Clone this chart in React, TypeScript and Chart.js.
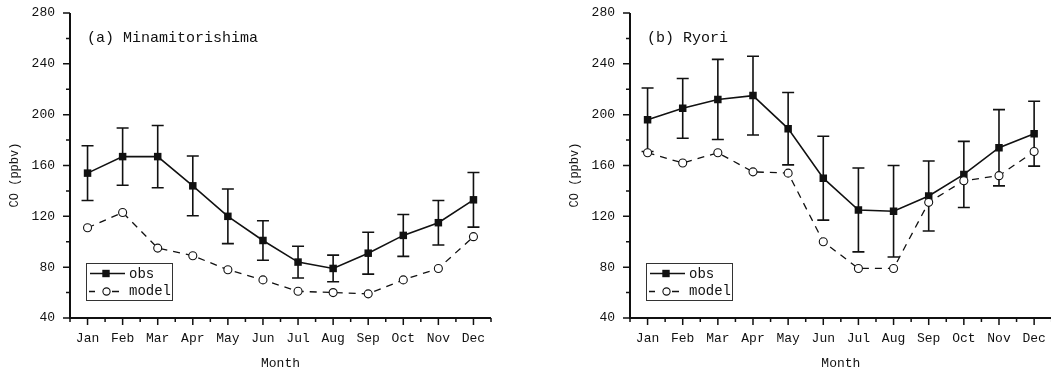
import React, { useEffect, useRef } from 'react';
import { Chart, registerables } from 'chart.js';
Chart.register(...registerables);

const months = ['Jan', 'Feb', 'Mar', 'Apr', 'May', 'Jun', 'Jul', 'Aug', 'Sep', 'Oct', 'Nov', 'Dec'];
const yMin = 40;
const yMax = 280;

// (a) Minamitorishima
const minamiObs = [154, 167, 167, 144, 120, 101, 84, 79, 91, 105, 115, 133];
const minamiErr = [21.5, 22.5, 24.5, 23.5, 21.5, 15.5, 12.5, 10.5, 16.5, 16.5, 17.5, 21.5];
const minamiModel = [111, 123, 95, 89, 78, 70, 61, 60, 59, 70, 79, 104];

// (b) Ryori
const ryoriObs = [196, 205, 212, 215, 189, 150, 125, 124, 136, 153, 174, 185];
const ryoriErr = [25, 23.5, 31.5, 31, 28.5, 33, 33, 36, 27.5, 26, 30, 25.5];
const ryoriModel = [170, 162, 170, 155, 154, 100, 79, 79, 131, 148, 152, 171];

const FONT = '"Liberation Mono", "DejaVu Sans Mono", monospace';
const INK = '#111';

type PanelProps = {
  title: string;
  obs: number[];
  err: number[];
  model: number[];
  width: number;
  padRight: number;
};

function makePlugin(p: PanelProps) {
  return {
    id: 'panelDecor',
    beforeDatasetsDraw(chart: any) {
      const ctx = chart.ctx;
      const xs = chart.scales.x;
      const ys = chart.scales.y;
      ctx.save();
      ctx.strokeStyle = INK;
      ctx.lineWidth = 1.6;
      p.obs.forEach((v, i) => {
        const x = xs.getPixelForValue(i + 1);
        const yt = ys.getPixelForValue(v + p.err[i]);
        const yb = ys.getPixelForValue(v - p.err[i]);
        ctx.beginPath();
        ctx.moveTo(x, yt);
        ctx.lineTo(x, yb);
        ctx.moveTo(x - 6, yt);
        ctx.lineTo(x + 6, yt);
        ctx.moveTo(x - 6, yb);
        ctx.lineTo(x + 6, yb);
        ctx.stroke();
      });
      ctx.restore();
    },
    afterDraw(chart: any) {
      const ctx = chart.ctx;
      const { left, right, top, bottom } = chart.chartArea;
      const xs = chart.scales.x;
      const ys = chart.scales.y;
      ctx.save();
      // axes
      ctx.strokeStyle = INK;
      ctx.lineWidth = 2;
      ctx.beginPath();
      ctx.moveTo(left, top);
      ctx.lineTo(left, bottom + 1);
      ctx.moveTo(left - 1, bottom);
      ctx.lineTo(right, bottom);
      ctx.stroke();
      // ticks
      ctx.lineWidth = 1.5;
      ctx.beginPath();
      for (let v = yMin; v <= yMax; v += 20) {
        const y = ys.getPixelForValue(v);
        const len = v % 40 === 0 ? 7 : 4;
        ctx.moveTo(left, y);
        ctx.lineTo(left - len, y);
      }
      for (let k = 1; k <= 25; k++) {
        const x = xs.getPixelForValue(k * 0.5);
        const len = k % 2 === 0 ? 7 : 4;
        ctx.moveTo(x, bottom);
        ctx.lineTo(x, bottom + len);
      }
      ctx.stroke();

      // panel title
      ctx.fillStyle = INK;
      ctx.font = `15px ${FONT}`;
      ctx.textAlign = 'left';
      ctx.textBaseline = 'alphabetic';
      ctx.fillText(p.title, left + 17, 42);

      // axis titles
      ctx.font = `13px ${FONT}`;
      ctx.textAlign = 'center';
      ctx.textBaseline = 'middle';
      ctx.fillText('Month', (left + right) / 2, 364);
      ctx.save();
      ctx.translate(left - 55, 175);
      ctx.rotate(-Math.PI / 2);
      ctx.font = `12px ${FONT}`;
      ctx.fillText('CO (ppbv)', 0, 0);
      ctx.restore();

      // legend
      const bx = left + 16;
      const by = 263;
      ctx.strokeStyle = '#333';
      ctx.lineWidth = 1;
      ctx.strokeRect(bx + 0.5, by + 0.5, 86, 37);
      const r1 = by + 10.5;
      const r2 = by + 28.5;
      ctx.strokeStyle = INK;
      ctx.lineWidth = 1.6;
      ctx.beginPath();
      ctx.moveTo(bx + 4, r1);
      ctx.lineTo(bx + 39, r1);
      ctx.stroke();
      ctx.fillStyle = INK;
      ctx.fillRect(bx + 20 - 3.7, r1 - 3.7, 7.4, 7.4);
      ctx.lineWidth = 1.3;
      ctx.beginPath();
      ctx.moveTo(bx + 3, r2);
      ctx.lineTo(bx + 9, r2);
      ctx.moveTo(bx + 26, r2);
      ctx.lineTo(bx + 33, r2);
      ctx.stroke();
      ctx.beginPath();
      ctx.fillStyle = '#fff';
      ctx.arc(bx + 20.5, r2, 3.6, 0, Math.PI * 2);
      ctx.fill();
      ctx.lineWidth = 1.1;
      ctx.stroke();
      ctx.fillStyle = INK;
      ctx.font = `14px ${FONT}`;
      ctx.textAlign = 'left';
      ctx.textBaseline = 'middle';
      ctx.fillText('obs', bx + 43, r1 + 1);
      ctx.fillText('model', bx + 43, r2);
      ctx.restore();
    },
  };
}

function Panel(p: PanelProps) {
  const ref = useRef<HTMLCanvasElement>(null);
  useEffect(() => {
    if (!ref.current) return;
    const chart = new Chart(ref.current, {
      type: 'line',
      data: {
        datasets: [
          {
            label: 'model',
            data: p.model.map((v, i) => ({ x: i + 1, y: v })),
            borderColor: INK,
            borderWidth: 1.3,
            borderDash: [7, 6],
            pointStyle: 'circle',
            pointRadius: 4,
            pointBackgroundColor: '#fff',
            pointBorderColor: INK,
            pointBorderWidth: 1.1,
            tension: 0,
          },
          {
            label: 'obs',
            data: p.obs.map((v, i) => ({ x: i + 1, y: v })),
            borderColor: INK,
            borderWidth: 1.6,
            pointStyle: 'rect',
            pointRadius: 5.3,
            pointBackgroundColor: INK,
            pointBorderColor: INK,
            pointBorderWidth: 0,
            tension: 0,
          },
        ],
      },
      options: {
        animation: false,
        responsive: false,
        layout: { padding: { top: 13, right: p.padRight, left: 0, bottom: 0 } },
        plugins: { legend: { display: false }, tooltip: { enabled: false } },
        scales: {
          x: {
            type: 'linear',
            min: 0.5,
            max: 12.5,
            grid: { display: false, drawTicks: false },
            border: { display: false },
            afterFit: (s: any) => {
              s.height = 59;
              s.paddingLeft = 0;
              s.paddingRight = 0;
            },
            ticks: {
              stepSize: 0.5,
              autoSkip: false,
              maxRotation: 0,
              padding: 13,
              color: INK,
              font: { family: FONT, size: 13 },
              callback: (v: any) => {
                const n = Number(v);
                return Number.isInteger(n) ? months[n - 1] : '';
              },
            },
          },
          y: {
            type: 'linear',
            min: yMin,
            max: yMax,
            grid: { display: false, drawTicks: false },
            border: { display: false },
            afterFit: (s: any) => {
              s.width = 70;
              s.paddingTop = 0;
              s.paddingBottom = 0;
            },
            ticks: {
              stepSize: 20,
              autoSkip: false,
              padding: 15,
              color: INK,
              font: { family: FONT, size: 13 },
              callback: (v: any) => (Number(v) % 40 === 0 ? String(v) : ''),
            },
          },
        },
      },
      plugins: [makePlugin(p)],
    } as any);
    return () => chart.destroy();
  }, []);
  return <canvas ref={ref} width={p.width} height={377} style={{ width: p.width, height: 377, display: 'block' }} />;
}

export default function App() {
  return (
    <div style={{ position: 'fixed', left: 0, top: 0, width: 1051, height: 377, background: '#fff', overflow: 'hidden' }}>
      <div style={{ position: 'absolute', left: 0, top: 0 }}>
        <Panel title="(a) Minamitorishima" obs={minamiObs} err={minamiErr} model={minamiModel} width={520} padRight={29} />
      </div>
      <div style={{ position: 'absolute', left: 560, top: 0 }}>
        <Panel title="(b) Ryori" obs={ryoriObs} err={ryoriErr} model={ryoriModel} width={497} padRight={0} />
      </div>
    </div>
  );
}
